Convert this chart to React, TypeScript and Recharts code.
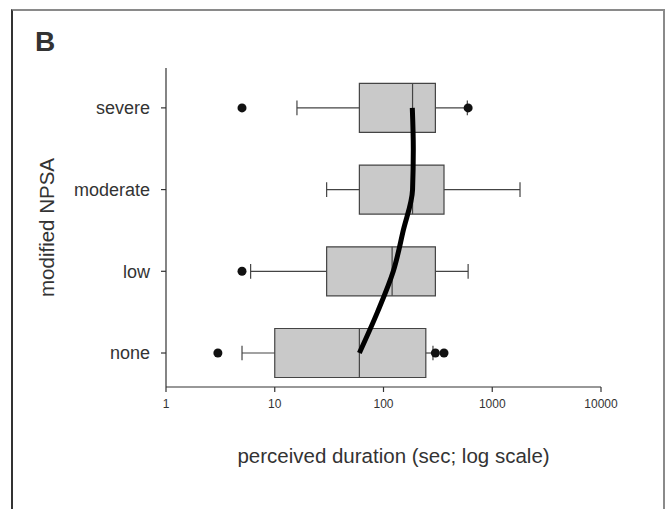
import React from 'react';
import { ComposedChart, Line, ReferenceArea, ReferenceLine, Scatter, XAxis, YAxis } from 'recharts';

// severity categories, bottom to top
const levels = ['none', 'low', 'moderate', 'severe'];

// box plot statistics (seconds), one per level
const whiskerLow = [5, 6, 30, 16];
const lowerQuartile = [10, 30, 60, 60];
const medians = [60, 120, 185, 185];
const upperQuartile = [245, 300, 360, 300];
const whiskerHigh = [285, 600, 1800, 590];

// outliers
const outlierValues = [3, 300, 360, 5, 5, 600];
const outlierLevels = [1, 1, 1, 2, 4, 4];

// smoothed trend through the medians
const trendValues = [60, 88, 123, 152, 185, 188, 184];
const trendLevels = [1, 1.5, 2, 2.5, 3, 3.5, 4];

const xTicks = [1, 10, 100, 1000, 10000];
const yTicks = [1, 2, 3, 4];

const FONT = '"Liberation Sans", Arial, Helvetica, sans-serif';
const INK = '#333333';
const BOX_HALF = 0.3;
const CAP_HALF = 0.09;

const outliers = outlierValues.map((value, i) => ({ value, level: outlierLevels[i] }));
const trend = trendValues.map((value, i) => ({ value, level: trendLevels[i] }));

const App: React.FC = () => {
  return (
    <div style={{ position: 'absolute', left: 0, top: 0, width: 671, height: 509, background: '#fff', fontFamily: FONT }}>
      <div
        style={{
          position: 'absolute',
          left: 11,
          top: 9,
          width: 650,
          height: 520,
          borderTop: '2px solid #8a8a8a',
          borderRight: '2px solid #8a8a8a',
          borderLeft: '2px solid #333',
        }}
      />
      <div
        style={{
          position: 'absolute',
          left: 35,
          top: 28,
          fontSize: 28,
          lineHeight: '28px',
          fontWeight: 'bold',
          color: INK,
        }}
      >
        B
      </div>
      <div style={{ position: 'absolute', left: 0, top: 0 }}>
        <ComposedChart
          width={671}
          height={509}
          layout="vertical"
          margin={{ top: 68, right: 70, bottom: 92, left: 30 }}
          style={{ fontFamily: FONT }}
        >
          <XAxis
            type="number"
            dataKey="value"
            scale="log"
            domain={[1, 10000]}
            ticks={xTicks}
            allowDataOverflow
            height={30}
            tickSize={5}
            tickMargin={7}
            axisLine={{ stroke: INK, strokeWidth: 1.2 }}
            tickLine={{ stroke: INK, strokeWidth: 1.2 }}
            tick={{ fill: INK, fontSize: 12 }}
            label={{
              value: 'perceived duration (sec; log scale)',
              position: 'bottom',
              offset: 31,
              dx: 10,
              style: { fill: INK, fontSize: 20.5 },
            }}
          />
          <YAxis
            type="number"
            dataKey="level"
            domain={[0.584, 4.488]}
            ticks={yTicks}
            reversed
            allowDataOverflow
            width={136}
            tickSize={5}
            tickMargin={11}
            tickFormatter={(v: number) => levels[v - 1]}
            axisLine={{ stroke: INK, strokeWidth: 1.2 }}
            tickLine={{ stroke: INK, strokeWidth: 1.2 }}
            tick={{ fill: INK, fontSize: 18 }}
            label={{
              value: 'modified NPSA',
              angle: -90,
              position: 'insideLeft',
              offset: 17,
              style: { fill: INK, fontSize: 20.5, textAnchor: 'middle' },
            }}
          />

          {levels.map((name, i) => {
            const level = i + 1;
            return (
              <React.Fragment key={name}>
                <ReferenceLine
                  segment={[{ x: whiskerLow[i], y: level }, { x: lowerQuartile[i], y: level }]}
                  stroke="#444"
                  strokeWidth={1.2}
                />
                <ReferenceLine
                  segment={[{ x: upperQuartile[i], y: level }, { x: whiskerHigh[i], y: level }]}
                  stroke="#444"
                  strokeWidth={1.2}
                />
                <ReferenceLine
                  segment={[{ x: whiskerLow[i], y: level - CAP_HALF }, { x: whiskerLow[i], y: level + CAP_HALF }]}
                  stroke="#444"
                  strokeWidth={1.2}
                />
                <ReferenceLine
                  segment={[{ x: whiskerHigh[i], y: level - CAP_HALF }, { x: whiskerHigh[i], y: level + CAP_HALF }]}
                  stroke="#444"
                  strokeWidth={1.2}
                />
                <ReferenceArea
                  x1={lowerQuartile[i]}
                  x2={upperQuartile[i]}
                  y1={level - BOX_HALF}
                  y2={level + BOX_HALF}
                  fill="#c9c9c9"
                  fillOpacity={1}
                  stroke="#444"
                  strokeWidth={1.2}
                />
                <ReferenceLine
                  segment={[{ x: medians[i], y: level - BOX_HALF }, { x: medians[i], y: level + BOX_HALF }]}
                  stroke="#444"
                  strokeWidth={1.2}
                />
              </React.Fragment>
            );
          })}

          <Line
            data={trend}
            dataKey="value"
            type="monotone"
            stroke="#000"
            strokeWidth={5}
            dot={false}
            isAnimationActive={false}
          />
          <Scatter
            data={outliers}
            dataKey="value"
            isAnimationActive={false}
            shape={(p: any) => <circle cx={p.cx} cy={p.cy} r={4.5} fill="#111" />}
          />
        </ComposedChart>
      </div>
    </div>
  );
};

export default App;
